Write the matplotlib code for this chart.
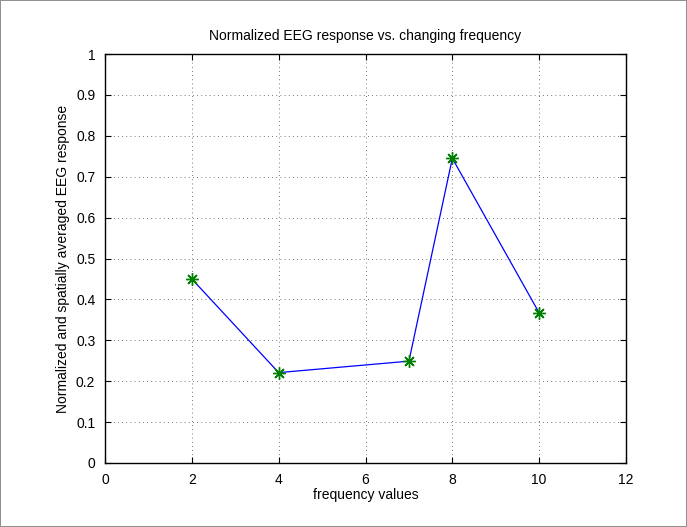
import matplotlib
matplotlib.use("Agg")
import matplotlib.pyplot as plt

freq = [2, 4, 7, 8, 10]
response = [0.45, 0.221, 0.249, 0.745, 0.367]
xticks = [0, 2, 4, 6, 8, 10, 12]
yticks = [0, 0.1, 0.2, 0.3, 0.4, 0.5, 0.6, 0.7, 0.8, 0.9, 1]
ytick_labels = ["0", "0.1", "0.2", "0.3", "0.4", "0.5", "0.6", "0.7", "0.8", "0.9", "1"]

plt.rcParams['font.family'] = ['Liberation Sans', 'DejaVu Sans']
fig = plt.figure(figsize=(6.87, 5.27), dpi=100)
fig.patch.set_edgecolor('#909090')
fig.patch.set_linewidth(1.2)
ax = fig.add_axes([105/687, 64/527, (626-105)/687, (463-54)/527])

ax.plot(freq, response, color='blue', linewidth=0.9)
ax.plot(freq, response, linestyle='none', marker=(8, 2, 0), color='#008000',
        markersize=9, markeredgewidth=1.0)

ax.set_xlim(0, 12)
ax.set_ylim(0, 1)
ax.set_xticks(xticks)
ax.set_yticks(yticks)
ax.set_yticklabels(ytick_labels)
ax.tick_params(direction='in', top=True, right=True, labelsize=10, length=4, width=0.8)
ax.tick_params(axis='x', pad=7)
ax.tick_params(axis='y', pad=7)
ax.grid(True, linestyle=(0, (1, 4)), color='black', linewidth=0.6, alpha=0.7)
for s in ax.spines.values():
    s.set_linewidth(1.0)

ax.set_title("Normalized EEG response vs. changing frequency", fontsize=10, pad=10)
ax.set_xlabel("frequency values", fontsize=10, labelpad=1)
ax.set_ylabel("Normalized and spatially averaged EEG response", fontsize=10, labelpad=4)

fig.savefig("out.png", dpi=100, edgecolor=fig.get_edgecolor())
